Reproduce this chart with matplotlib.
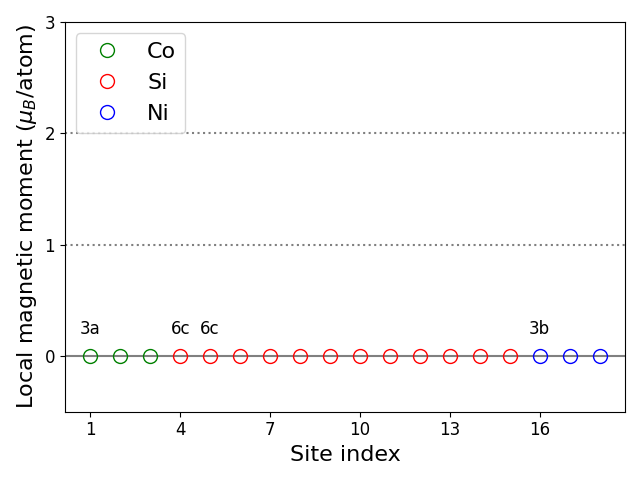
import matplotlib
matplotlib.use('Agg')
import matplotlib.pyplot as plt

# site indices and moments per element
co_sites = [1, 2, 3]
si_sites = [4, 5, 6, 7, 8, 9, 10, 11, 12, 13, 14, 15]
ni_sites = [16, 17, 18]
co_mom = [0, 0, 0]
si_mom = [0] * 12
ni_mom = [0, 0, 0]

# Wyckoff labels
wyck_sites = [1, 4, 5, 16]
wyck_labels = ['3a', '6c', '6c', '3b']

xticks = [1, 4, 7, 10, 13, 16]

fig, ax = plt.subplots(figsize=(6.4, 4.8))

ax.axhline(0, color='gray', lw=1.5, zorder=1)
ax.axhline(1, color='gray', ls=':', lw=1.5, zorder=1)
ax.axhline(2, color='gray', ls=':', lw=1.5, zorder=1)

ax.plot(co_sites, co_mom, 'o', mfc='none', mec='green', ms=10, label='Co', zorder=3)
ax.plot(si_sites, si_mom, 'o', mfc='none', mec='red', ms=10, label='Si', zorder=3)
ax.plot(ni_sites, ni_mom, 'o', mfc='none', mec='blue', ms=10, label='Ni', zorder=3)

for s, lab in zip(wyck_sites, wyck_labels):
    ax.text(s, 0.165, lab, ha='center', va='bottom', fontsize=12)

ax.set_xlim(0.15, 18.85)
ax.set_ylim(-0.5, 3)
ax.set_xticks(xticks)
ax.set_yticks([0, 1, 2, 3])
ax.tick_params(labelsize=12)
ax.set_xlabel('Site index', fontsize=16)
ax.set_ylabel(r'Local magnetic moment ($\mu_B$/atom)', fontsize=16)
ax.legend(loc='upper left', fontsize=16)

plt.tight_layout()
plt.savefig('out.png', dpi=100)
